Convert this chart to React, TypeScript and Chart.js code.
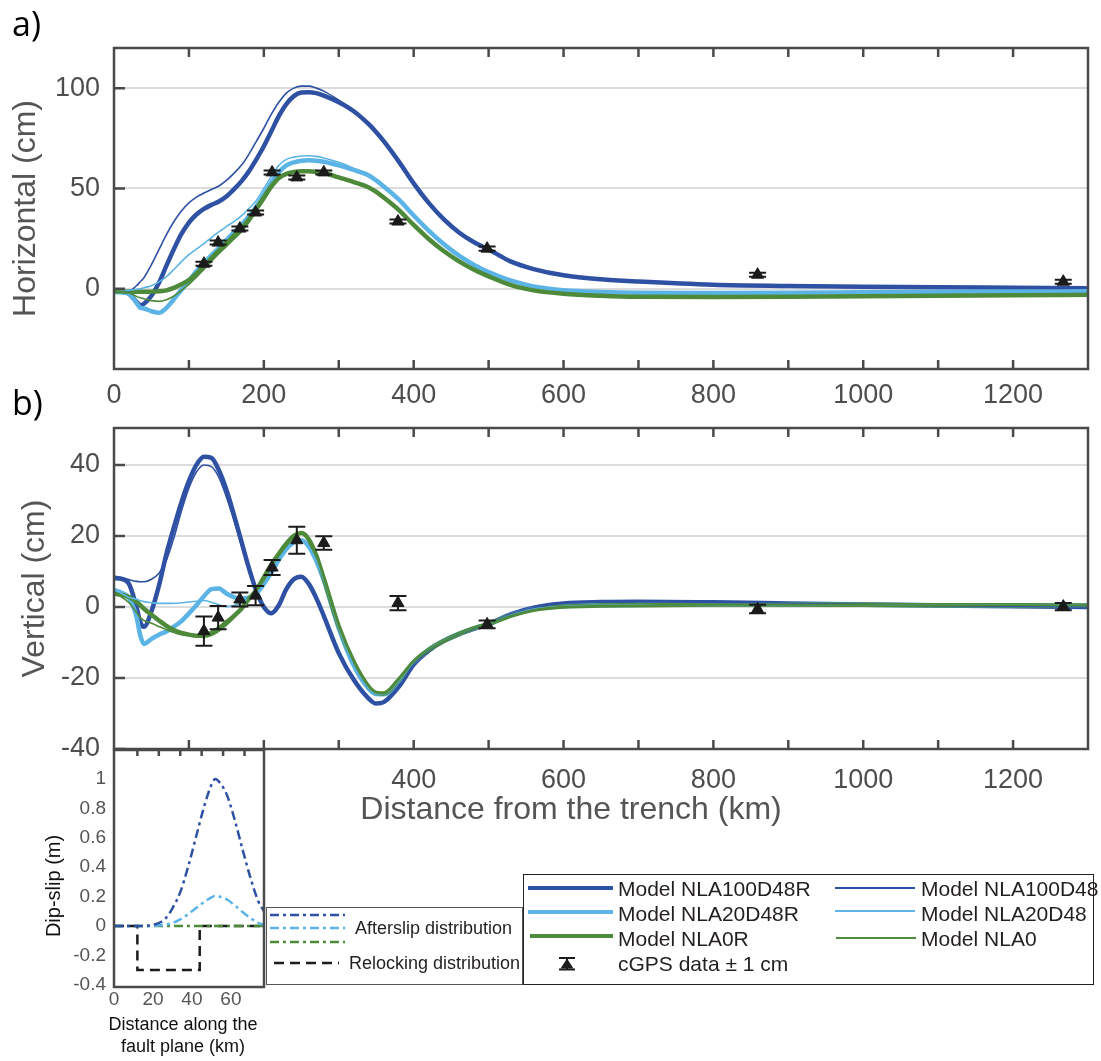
import React, { useEffect, useRef } from 'react';
import { Chart, registerables } from 'chart.js';

Chart.register(...registerables);
Chart.defaults.font.family = "'Liberation Sans', Arial, Helvetica, sans-serif";

// ---------- data ----------
const distKm = [0, 10, 20, 30, 35, 40, 50, 60, 70, 80, 90, 100, 110, 120, 130, 140, 150, 160, 170, 180, 190, 200, 210, 220, 230, 240, 250, 260, 270, 280, 300, 320, 340, 350, 360, 380, 400, 420, 440, 460, 480, 500, 530, 560, 600, 650, 700, 800, 900, 1000, 1100, 1200, 1300];

const horizNLA100D48R = [-1.3, -1.5, -2.5, -6.5, -8.2, -7.5, -3.5, 3, 11.5, 19.8, 27.3, 33, 37, 39.8, 41.8, 43.5, 46, 49.5, 53.5, 58.5, 64.5, 71, 78.5, 86, 92, 96, 97.8, 98, 97.5, 96.3, 93, 88.5, 82, 78, 73.6, 63.5, 52.5, 42.8, 34.7, 28.2, 23.3, 19.6, 13.5, 9.8, 6.7, 4.7, 3.6, 2.0, 1.4, 1.0, 0.7, 0.5, 0.3];
const horizNLA100D48 = [-1, -1, -1, 1.5, 3.5, 5.5, 12, 19.5, 27, 33.5, 38.8, 42.8, 45.7, 47.7, 49.5, 51.2, 54, 57.5, 61.5, 67, 73.5, 80, 87, 93, 97.5, 100, 101, 101, 100, 98.5, 94, 88.8, 82.2, 78.2, 73.8, 63.6, 52.5, 42.8, 34.7, 28.2, 23.3, 19.6, 13.5, 9.8, 6.7, 4.7, 3.6, 2.0, 1.4, 1.0, 0.7, 0.5, 0.3];
const horizNLA20D48R = [-1.5, -1.8, -2.5, -7, -9.5, -9.8, -11.2, -12, -9.5, -5.2, -0.5, 4, 8.7, 12.8, 16.6, 20.3, 24.3, 28, 31.8, 36, 41, 47, 53, 58, 61.5, 63, 63.8, 64, 63.8, 63.3, 61.5, 59.2, 56.5, 54, 51, 44.5, 36.5, 29, 22.3, 16.6, 12, 8.3, 4, 1.2, -0.7, -1.6, -2, -2.1, -2, -1.8, -1.6, -1.4, -1.3];
const horizNLA20D48 = [-1, -1, -0.8, -0.3, 0, 0.5, 1.5, 3.4, 6, 9.6, 13.5, 17, 19.8, 22.5, 25.5, 28.3, 31, 33.5, 36.3, 40, 44, 50, 56, 61.5, 64.5, 65.6, 66.2, 66.3, 66, 65.2, 63, 60, 56.8, 54.1, 51.1, 44.6, 36.5, 29, 22.3, 16.6, 12, 8.3, 4, 1.2, -0.7, -1.6, -2, -2.1, -2, -1.8, -1.6, -1.4, -1.3];
const horizNLA0R = [-1.3, -1.3, -1.4, -1.5, -1.5, -1.5, -1.5, -1.3, -0.8, 0.4, 2.2, 4.3, 7.5, 11, 15.2, 19, 22.6, 26.5, 30, 34.5, 40, 45.5, 51, 55.2, 57.3, 58.2, 58.6, 58.6, 58.3, 57.8, 55.5, 53.2, 50.5, 48.3, 45.5, 39.3, 31.8, 24.8, 18.8, 13.8, 9.6, 6.2, 1.8, -0.8, -2.5, -3.5, -4, -4.1, -4, -3.8, -3.5, -3.3, -3.0];
const horizNLA0 = [-1, -1.2, -2, -3.8, -4.5, -5, -5.9, -6.3, -5.5, -3.6, -0.8, 2.2, 5.8, 9.6, 13.6, 17.5, 21, 24.7, 28.3, 33, 38.5, 44, 50, 54.5, 57, 58.1, 58.6, 58.6, 58.3, 57.8, 55.5, 53.2, 50.5, 48.3, 45.5, 39.3, 31.8, 24.8, 18.8, 13.8, 9.6, 6.2, 1.8, -0.8, -2.5, -3.5, -4, -4.1, -4, -3.8, -3.5, -3.3, -3.0];

const vertNLA100D48R = [8.1, 7.9, 6.5, 0, -4.2, -5.6, -1.2, 6, 15, 22.5, 29.5, 35.5, 40, 42.3, 42, 38.5, 33, 26, 18.5, 11, 4.5, 0, -1.8, 0.5, 5, 7.8, 8.5, 6.5, 2.5, -2.5, -13, -20.5, -25.8, -27.2, -26.8, -22.5, -16.2, -12.3, -9.6, -7.7, -6.2, -4.8, -2, -0.2, 1, 1.4, 1.5, 1.3, 1.0, 0.7, 0.4, 0.2, 0.0];
const vertNLA100D48 = [8.7, 8.3, 7.7, 7.2, 7.1, 7.1, 7.8, 9.5, 13.2, 19.5, 27, 33.5, 38, 40, 39.5, 36.5, 31, 24.5, 17.5, 10.5, 4.3, 0, -1.8, 0.5, 5, 7.8, 8.5, 6.5, 2.5, -2.5, -13, -20.5, -25.8, -27.2, -26.8, -22.5, -16.2, -12.3, -9.6, -7.7, -6.2, -4.8, -2, -0.2, 1, 1.4, 1.5, 1.3, 1.0, 0.7, 0.4, 0.2, 0.0];
const vertNLA20D48R = [4.8, 4, 2.5, -2.7, -8, -10.4, -9, -7.8, -6.9, -5.5, -4, -1.8, 0.5, 3, 5, 5.2, 3.8, 2.8, 2.4, 2.6, 3.8, 6.5, 9.7, 13.3, 16.3, 18.2, 18.8, 17, 13, 7.5, -6, -16.5, -23, -24.5, -24.6, -20.8, -15.6, -12, -9.5, -7.6, -6, -4.8, -2.3, -0.6, 0.2, 0.5, 0.6, 0.7, 0.7, 0.6, 0.5, 0.5, 0.4];
const vertNLA20D48 = [4.8, 3.8, 2.7, 2.2, 1.8, 1.5, 1.2, 1, 1, 1, 1.2, 1.4, 1.6, 1.8, 1.3, 0.6, 0.1, 0.4, 1.2, 2.3, 3.8, 6.5, 9.7, 13.3, 16.3, 18.2, 18.8, 17, 13, 7.5, -6, -16.5, -23, -24.5, -24.6, -20.8, -15.6, -12, -9.5, -7.6, -6, -4.8, -2.3, -0.6, 0.2, 0.5, 0.6, 0.7, 0.7, 0.6, 0.5, 0.5, 0.4];
const vertNLA0R = [3.8, 3.4, 2.8, 1.5, 0.5, -0.5, -2.2, -3.8, -5.3, -6.5, -7.3, -7.8, -8.1, -8.1, -7.6, -6.3, -4.6, -2.6, -0.5, 2.3, 4.8, 8.3, 12, 15, 17.8, 20, 20.8, 19, 14.5, 8, -5.5, -15.5, -22.5, -24.2, -24.4, -20.5, -15.5, -12.1, -9.6, -7.6, -6, -4.8, -2.4, -0.8, 0.1, 0.4, 0.5, 0.7, 0.7, 0.6, 0.5, 0.5, 0.4];
const vertNLA0 = [3.8, 2.8, 1.2, -1.5, -3, -3.8, -4.6, -5.5, -6.4, -7.2, -7.8, -8, -8, -7.8, -6.8, -5.5, -3.8, -2.2, -0.4, 2.3, 4.8, 8.3, 12, 15, 17.8, 20, 20.8, 19, 14.5, 8, -5.5, -15.5, -22.5, -24.2, -24.4, -20.5, -15.5, -12.1, -9.6, -7.6, -6, -4.8, -2.4, -0.8, 0.1, 0.4, 0.5, 0.7, 0.7, 0.6, 0.5, 0.5, 0.4];

const gpsKm = [120, 139, 168, 189, 211, 244, 280, 379, 498, 859, 1267];
const gpsHoriz = [12.5, 23, 30, 38, 58, 55.5, 58, 33.5, 20, 7, 3.5];
const gpsHorizErr = [1, 1, 1, 1, 1, 1, 1, 1, 1, 1, 1];
const gpsVert = [-6.8, -3, 2.1, 3.2, 11.1, 18.8, 18, 1.1, -4.9, -0.6, 0.1];
const gpsVertErr = [4.1, 3.3, 2, 2.7, 2.1, 3.8, 1.9, 2, 1.1, 1.2, 1];

const faultKm = [0, 10, 18, 22, 26, 30, 34, 38, 42, 46, 50, 52, 54, 58, 62, 66, 70, 74, 77];
const afterslipNLA100 = [0, 0, 0.003, 0.015, 0.045, 0.12, 0.23, 0.4, 0.6, 0.8, 0.96, 1.0, 0.98, 0.89, 0.72, 0.52, 0.33, 0.17, 0.1];
const afterslipNLA20 = [0, 0, 0, 0.002, 0.008, 0.02, 0.045, 0.08, 0.12, 0.16, 0.195, 0.204, 0.2, 0.18, 0.14, 0.095, 0.055, 0.022, 0.008];
const afterslipNLA0 = [0, 0, 0, 0, 0, 0, 0, 0, 0, 0, 0, 0, 0, 0, 0, 0, 0, 0, 0];
const relockKm = [0, 12, 12, 44, 44, 77];
const relockSlip = [0, 0, -0.3, -0.3, 0, 0];

const horizXTicks = [0, 200, 400, 600, 800, 1000, 1200];
const vertXTicks = [400, 600, 800, 1000, 1200];
const minorXTicks = [100, 200, 300, 400, 500, 600, 700, 800, 900, 1000, 1100, 1200];
const horizYTicks = [0, 50, 100];
const vertYTicks = [-40, -20, 0, 20, 40];
const insetXTicks = [0, 20, 40, 60];
const insetYTicks = [-0.4, -0.2, 0, 0.2, 0.4, 0.6, 0.8, 1];
const insetTopTicks = [12, 23, 34, 45, 56, 67];

// ---------- styles ----------
const DARK = '#2f51a3';
const LIGHT = '#5bb4e5';
const GREEN = '#4d8a3a';
const AXIS = '#4a4a4a';
const TICKTXT = '#4d4d4d';
const FONT = "'Liberation Sans', Arial, Helvetica, sans-serif";
const THICK = 4.5;
const THIN = 1.6;

function lineDs(label: string, xs: number[], ys: number[], color: string, width: number, order: number, extra: any = {}) {
  return {
    type: 'line',
    label,
    data: xs.map((x, i) => ({ x, y: ys[i] })),
    borderColor: color,
    backgroundColor: color,
    borderWidth: width,
    pointRadius: 0,
    fill: false,
    cubicInterpolationMode: 'monotone',
    order,
    ...extra,
  };
}

function gpsDs(ys: number[]) {
  return {
    type: 'line',
    label: 'cGPS data ± 1 cm',
    data: gpsKm.map((x, i) => ({ x, y: ys[i] })),
    showLine: false,
    pointStyle: 'triangle',
    pointRadius: 7,
    pointBackgroundColor: '#1b1b1b',
    pointBorderColor: '#1b1b1b',
    pointBorderWidth: 1,
    order: 0,
  };
}

function framePlugin(cfg: any) {
  return {
    id: 'frame',
    afterDatasetsDraw(chart: any) {
      const { ctx, chartArea: a } = chart;
      const xs = chart.scales.x;
      const ys = chart.scales.y;
      ctx.save();
      ctx.strokeStyle = AXIS;
      ctx.lineWidth = 2.5;
      ctx.beginPath();
      for (const v of cfg.top || []) {
        const p = xs.getPixelForValue(v);
        ctx.moveTo(p, a.top);
        ctx.lineTo(p, a.top + cfg.xLen);
      }
      for (const v of cfg.bottom || []) {
        const p = xs.getPixelForValue(v);
        ctx.moveTo(p, a.bottom);
        ctx.lineTo(p, a.bottom - cfg.xLen);
      }
      for (const v of cfg.left || []) {
        const p = ys.getPixelForValue(v);
        ctx.moveTo(a.left, p);
        ctx.lineTo(a.left + cfg.yLen, p);
      }
      ctx.stroke();
      ctx.strokeRect(a.left, a.top, a.right - a.left, a.bottom - a.top);
      ctx.restore();
    },
  };
}

function errorBarPlugin(xv: number[], yv: number[], ev: number[]) {
  return {
    id: 'errorBars',
    afterDatasetsDraw(chart: any) {
      const { ctx } = chart;
      const xs = chart.scales.x;
      const ys = chart.scales.y;
      ctx.save();
      ctx.strokeStyle = '#1b1b1b';
      ctx.lineWidth = 2;
      ctx.beginPath();
      xv.forEach((x, i) => {
        const px = xs.getPixelForValue(x);
        const t = ys.getPixelForValue(yv[i] + ev[i]);
        const b = ys.getPixelForValue(yv[i] - ev[i]);
        ctx.moveTo(px, t);
        ctx.lineTo(px, b);
        ctx.moveTo(px - 8.5, t);
        ctx.lineTo(px + 8.5, t);
        ctx.moveTo(px - 8.5, b);
        ctx.lineTo(px + 8.5, b);
      });
      ctx.stroke();
      ctx.restore();
    },
  };
}

function setTicks(values: number[]) {
  return (scale: any) => {
    scale.ticks = values.map((v) => ({ value: v }));
  };
}

function fixWidth(w: number) {
  return (s: any) => {
    s.width = w;
    s.paddingTop = 0;
    s.paddingBottom = 0;
  };
}

function fixHeight(h: number) {
  return (s: any) => {
    s.height = h;
    s.paddingLeft = 0;
    s.paddingRight = 0;
  };
}

function makePanel(opts: {
  series: number[][];
  gps: number[];
  gpsErr: number[];
  yMin: number;
  yMax: number;
  yTicks: number[];
  xTicks: number[];
  yTitle: string;
  titlePad: number;
  padTop: number;
  xHeight: number;
  xLabelPad: number;
}) {
  const [s100R, s100, s20R, s20, s0R, s0] = opts.series;
  return {
    type: 'line',
    data: {
      datasets: [
        gpsDs(opts.gps),
        lineDs('Model NLA0', distKm, s0, GREEN, THIN, 1),
        lineDs('Model NLA20D48', distKm, s20, LIGHT, THIN, 2),
        lineDs('Model NLA100D48', distKm, s100, DARK, THIN, 3),
        lineDs('Model NLA0R', distKm, s0R, GREEN, THICK, 4),
        lineDs('Model NLA20D48R', distKm, s20R, LIGHT, THICK, 5),
        lineDs('Model NLA100D48R', distKm, s100R, DARK, THICK, 6),
      ],
    },
    options: {
      animation: false,
      responsive: false,
      maintainAspectRatio: false,
      layout: { padding: { top: opts.padTop, right: 13, left: 0, bottom: 0 } },
      plugins: { legend: { display: false }, tooltip: { enabled: false } },
      scales: {
        x: {
          type: 'linear',
          min: 0,
          max: 1300,
          afterBuildTicks: setTicks(opts.xTicks),
          afterFit: fixHeight(opts.xHeight),
          grid: { display: false, drawTicks: false },
          border: { display: false },
          ticks: {
            autoSkip: false,
            maxRotation: 0,
            minRotation: 0,
            font: { size: 27 },
            color: TICKTXT,
            padding: opts.xLabelPad,
            callback: (v: number) => String(v),
          },
        },
        y: {
          type: 'linear',
          min: opts.yMin,
          max: opts.yMax,
          afterBuildTicks: setTicks(opts.yTicks),
          afterFit: fixWidth(114),
          grid: { color: '#dcdcdc', lineWidth: 2, drawTicks: false },
          border: { display: false },
          ticks: { autoSkip: false, font: { size: 27 }, color: TICKTXT, padding: 14, callback: (v: number) => String(v) },
          title: { display: true, text: opts.yTitle, font: { size: 32 }, color: '#555555', padding: { top: opts.titlePad, bottom: 0 } },
        },
      },
    },
    plugins: [
      framePlugin({ top: minorXTicks, bottom: minorXTicks, left: opts.yTicks, xLen: 9, yLen: 11 }),
      errorBarPlugin(gpsKm, opts.gps, opts.gpsErr),
    ],
  };
}

const makeHoriz = () =>
  makePanel({
    series: [horizNLA100D48R, horizNLA100D48, horizNLA20D48R, horizNLA20D48, horizNLA0R, horizNLA0],
    gps: gpsHoriz,
    gpsErr: gpsHorizErr,
    yMin: -40,
    yMax: 120,
    yTicks: horizYTicks,
    xTicks: horizXTicks,
    yTitle: 'Horizontal (cm)',
    titlePad: 7,
    padTop: 7,
    xHeight: 51,
    xLabelPad: 10,
  });

const makeVert = () =>
  makePanel({
    series: [vertNLA100D48R, vertNLA100D48, vertNLA20D48R, vertNLA20D48, vertNLA0R, vertNLA0],
    gps: gpsVert,
    gpsErr: gpsVertErr,
    yMin: -40,
    yMax: 50.4,
    yTicks: vertYTicks,
    xTicks: vertXTicks,
    yTitle: 'Vertical (cm)',
    titlePad: 16,
    padTop: 8,
    xHeight: 71,
    xLabelPad: 15,
  });

const makeInset = () => ({
  type: 'line',
  data: {
    datasets: [
      lineDs('Afterslip NLA100D48R', faultKm, afterslipNLA100, DARK, 2.5, 1, { borderDash: [9, 4, 3, 4] }),
      lineDs('Afterslip NLA20D48R', faultKm, afterslipNLA20, LIGHT, 2.5, 2, { borderDash: [9, 4, 3, 4] }),
      lineDs('Afterslip NLA0R', faultKm, afterslipNLA0, GREEN, 2.5, 3, { borderDash: [9, 4, 3, 4] }),
      lineDs('Relocking distribution', relockKm, relockSlip, '#1b1b1b', 2.5, 4, { borderDash: [10, 6], cubicInterpolationMode: 'default', tension: 0 }),
    ],
  },
  options: {
    animation: false,
    responsive: false,
    maintainAspectRatio: false,
    layout: { padding: { top: 5, right: 16, left: 0, bottom: 0 } },
    plugins: { legend: { display: false }, tooltip: { enabled: false } },
    scales: {
      x: {
        type: 'linear',
        min: 0,
        max: 77,
        afterBuildTicks: setTicks(insetXTicks),
        afterFit: fixHeight(74),
        grid: { display: false, drawTicks: false },
        border: { display: false },
        ticks: { autoSkip: false, maxRotation: 0, font: { size: 19 }, color: '#555555', padding: 1, callback: (v: number) => String(v) },
      },
      y: {
        type: 'linear',
        min: -0.415,
        max: 1.197,
        afterBuildTicks: setTicks(insetYTicks),
        afterFit: fixWidth(114),
        grid: { display: false, drawTicks: false },
        border: { display: false },
        ticks: {
          autoSkip: false,
          font: { size: 19 },
          color: '#555555',
          padding: 8,
          callback: (v: number) => String(Math.round(v * 10) / 10),
        },
      },
    },
  },
  plugins: [framePlugin({ top: insetTopTicks, xLen: 6, yLen: 0 })],
});

function ChartCanvas(props: { left: number; top: number; width: number; height: number; make: () => any }) {
  const ref = useRef<HTMLCanvasElement>(null);
  useEffect(() => {
    const chart = new Chart(ref.current as HTMLCanvasElement, props.make());
    return () => chart.destroy();
  }, []);
  return (
    <canvas
      ref={ref}
      width={props.width}
      height={props.height}
      style={{ position: 'absolute', left: props.left, top: props.top, width: props.width, height: props.height }}
    />
  );
}

function Txt(props: { left: number; cy: number; size: number; children: any; color?: string }) {
  const lh = Math.round(props.size * 1.15);
  return (
    <div
      style={{
        position: 'absolute',
        left: props.left,
        top: props.cy - lh / 2,
        height: lh,
        lineHeight: lh + 'px',
        fontSize: props.size,
        fontFamily: FONT,
        color: props.color || '#231f20',
        whiteSpace: 'nowrap',
      }}
    >
      {props.children}
    </div>
  );
}

export default function App() {
  return (
    <div style={{ position: 'absolute', left: 0, top: 0, width: 1101, height: 1061, background: '#ffffff', overflow: 'hidden' }}>
      <ChartCanvas left={0} top={40} width={1101} height={380} make={makeHoriz} />
      <ChartCanvas left={0} top={420} width={1101} height={400} make={makeVert} />
      <ChartCanvas left={0} top={745} width={280} height={316} make={makeInset} />

      <div style={{ position: 'absolute', left: 12, top: 6, fontFamily: "'Open Sans', sans-serif", fontSize: 34, lineHeight: '34px', color: '#000' }}>a)</div>
      <div style={{ position: 'absolute', left: 12, top: 385, fontFamily: "'Open Sans', sans-serif", fontSize: 34, lineHeight: '34px', color: '#000' }}>b)</div>

      <div
        style={{
          position: 'absolute',
          left: 271,
          top: 789,
          width: 600,
          textAlign: 'center',
          fontFamily: FONT,
          fontSize: 32,
          lineHeight: '38px',
          color: '#555555',
          whiteSpace: 'nowrap',
        }}
      >
        Distance from the trench (km)
      </div>

      <div
        style={{
          position: 'absolute',
          left: 53 - 100,
          top: 886 - 12,
          width: 200,
          height: 24,
          lineHeight: '24px',
          textAlign: 'center',
          transform: 'rotate(-90deg)',
          transformOrigin: '50% 50%',
          fontFamily: FONT,
          fontSize: 20,
          color: '#111',
          whiteSpace: 'nowrap',
        }}
      >
        Dip-slip (m)
      </div>
      <div
        style={{
          position: 'absolute',
          left: 183 - 100,
          top: 1013,
          width: 200,
          textAlign: 'center',
          fontFamily: FONT,
          fontSize: 18,
          lineHeight: '22px',
          color: '#111',
        }}
      >
        Distance along the
        <br />
        fault plane (km)
      </div>

      {/* legend boxes */}
      <div style={{ position: 'absolute', left: 266, top: 907, width: 257, height: 78, border: '1.5px solid #555', boxSizing: 'border-box', background: '#fff' }} />
      <div style={{ position: 'absolute', left: 523, top: 874, width: 571, height: 111, border: '1.5px solid #222', boxSizing: 'border-box', background: '#fff' }} />

      <svg width={1101} height={1061} style={{ position: 'absolute', left: 0, top: 0, pointerEvents: 'none' }}>
        <line x1={528} y1={888} x2={613} y2={888} stroke={DARK} strokeWidth={4} />
        <line x1={528} y1={912} x2={613} y2={912} stroke={LIGHT} strokeWidth={4} />
        <line x1={530} y1={936} x2={613} y2={936} stroke={GREEN} strokeWidth={4} />
        <line x1={835} y1={888} x2={915} y2={888} stroke={DARK} strokeWidth={2} />
        <line x1={835} y1={911} x2={915} y2={911} stroke={LIGHT} strokeWidth={2} />
        <line x1={836} y1={938} x2={916} y2={938} stroke={GREEN} strokeWidth={2} />
        <line x1={559} y1={958} x2={575} y2={958} stroke="#1b1b1b" strokeWidth={2} />
        <line x1={559} y1={969.5} x2={575} y2={969.5} stroke="#1b1b1b" strokeWidth={2} />
        <line x1={567} y1={958} x2={567} y2={969.5} stroke="#1b1b1b" strokeWidth={2} />
        <polygon points="567,958.5 560.5,968.5 573.5,968.5" fill="#1b1b1b" />

        <line x1={270} y1={915} x2={345} y2={915} stroke={DARK} strokeWidth={2.5} strokeDasharray="9 4 3 4" />
        <line x1={270} y1={928} x2={345} y2={928} stroke={LIGHT} strokeWidth={2.5} strokeDasharray="9 4 3 4" />
        <line x1={270} y1={942} x2={345} y2={942} stroke={GREEN} strokeWidth={2.5} strokeDasharray="9 4 3 4" />
        <line x1={274} y1={963} x2={339} y2={963} stroke="#1b1b1b" strokeWidth={2.5} strokeDasharray="10 6" />
      </svg>

      <Txt left={618} cy={889} size={21}>Model NLA100D48R</Txt>
      <Txt left={618} cy={914} size={21}>Model NLA20D48R</Txt>
      <Txt left={618} cy={939} size={21}>Model NLA0R</Txt>
      <Txt left={618} cy={964} size={21}>cGPS data ± 1 cm</Txt>
      <Txt left={921} cy={889} size={21}>Model NLA100D48</Txt>
      <Txt left={921} cy={914} size={21}>Model NLA20D48</Txt>
      <Txt left={921} cy={939} size={21}>Model NLA0</Txt>

      <Txt left={355} cy={928} size={18}>Afterslip distribution</Txt>
      <Txt left={349} cy={963} size={18}>Relocking distribution</Txt>
    </div>
  );
}
